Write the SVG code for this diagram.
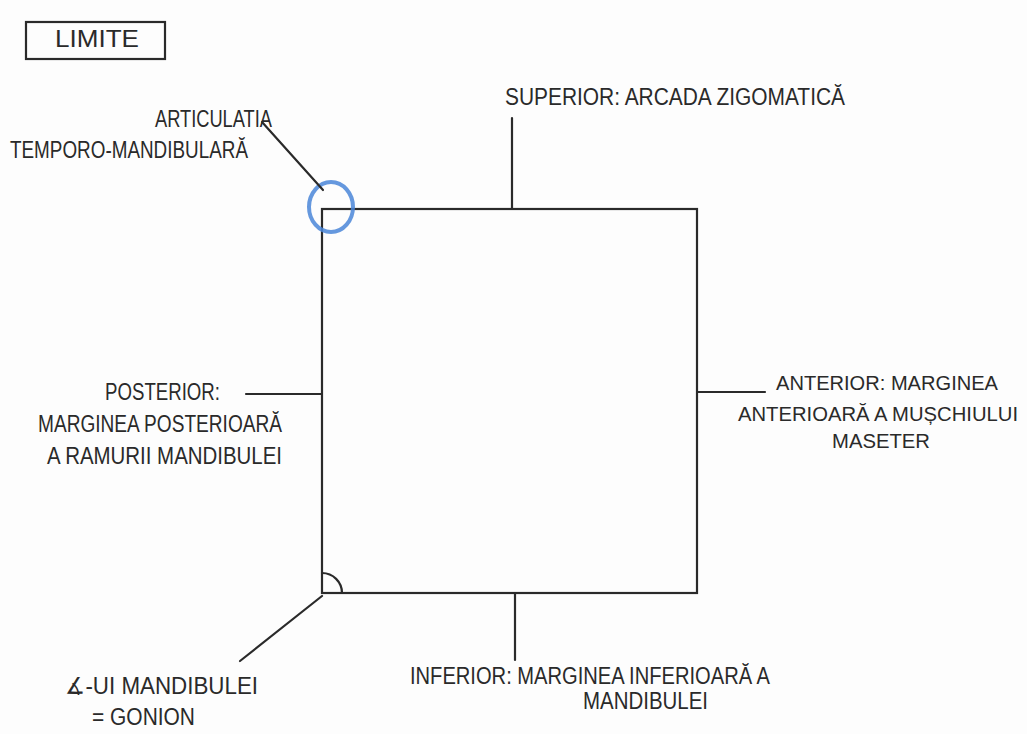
<svg xmlns="http://www.w3.org/2000/svg" width="1027" height="734" viewBox="0 0 1027 734">
<style>
.t{font-family:"Liberation Sans",Arial,sans-serif;font-size:23px;fill:#2a2a2a}
.s{font-size:20px}
.ln{stroke:#2a2a2a;stroke-width:2.2;fill:none;stroke-linecap:round}
</style>
<rect width="1027" height="734" fill="#fdfdfd"/>
<g id="title">
<rect x="26" y="22" width="139" height="37" class="ln"/>
<text class="t" x="55" y="47" font-size="29" textLength="84" lengthAdjust="spacingAndGlyphs">LIMITE</text>
</g>
<g id="region">
<rect x="322" y="209" width="375" height="384" class="ln"/>
<path class="ln" d="M322,573 A20,20 0 0 1 342,593"/>
</g>
<g id="atm-marker">
<ellipse cx="331" cy="207" rx="22" ry="25" fill="none" stroke="#4a86d8" stroke-width="4" opacity="0.85"/>
</g>
<g id="connectors">
<line class="ln" x1="262" y1="122" x2="323" y2="190"/>
<line class="ln" x1="512" y1="118" x2="512" y2="209"/>
<line class="ln" x1="246" y1="394" x2="322" y2="394"/>
<line class="ln" x1="697" y1="392" x2="765" y2="392"/>
<line class="ln" x1="515" y1="593" x2="515" y2="660"/>
<line class="ln" x1="322" y1="596" x2="240" y2="661"/>
</g>
<g id="atm-label">
<text class="t" x="155" y="127" textLength="117" lengthAdjust="spacingAndGlyphs">ARTICULATIA</text>
<text class="t" x="10" y="158" textLength="238" lengthAdjust="spacingAndGlyphs">TEMPORO-MANDIBULARĂ</text>
</g>
<g id="superior">
<text class="t" x="505" y="105" textLength="340" lengthAdjust="spacingAndGlyphs">SUPERIOR: ARCADA ZIGOMATICĂ</text>
</g>
<g id="posterior">
<text class="t" x="105" y="400" textLength="115" lengthAdjust="spacingAndGlyphs">POSTERIOR:</text>
<text class="t" x="38" y="432" textLength="244" lengthAdjust="spacingAndGlyphs">MARGINEA POSTERIOARĂ</text>
<text class="t" x="47" y="464" textLength="235" lengthAdjust="spacingAndGlyphs">A RAMURII MANDIBULEI</text>
</g>
<g id="anterior">
<text class="t s" x="776" y="390" textLength="222" lengthAdjust="spacingAndGlyphs">ANTERIOR: MARGINEA</text>
<text class="t s" x="738" y="421" textLength="280" lengthAdjust="spacingAndGlyphs">ANTERIOARĂ A MUȘCHIULUI</text>
<text class="t s" x="832" y="448" textLength="98" lengthAdjust="spacingAndGlyphs">MASETER</text>
</g>
<g id="gonion">
<text class="t" x="65" y="694" textLength="193" lengthAdjust="spacingAndGlyphs">∡-UI MANDIBULEI</text>
<text class="t" x="92" y="725" textLength="103" lengthAdjust="spacingAndGlyphs">= GONION</text>
</g>
<g id="inferior">
<text class="t" x="410" y="684" textLength="360" lengthAdjust="spacingAndGlyphs">INFERIOR: MARGINEA INFERIOARĂ A</text>
<text class="t" x="583" y="709" textLength="125" lengthAdjust="spacingAndGlyphs">MANDIBULEI</text>
</g>
</svg>
